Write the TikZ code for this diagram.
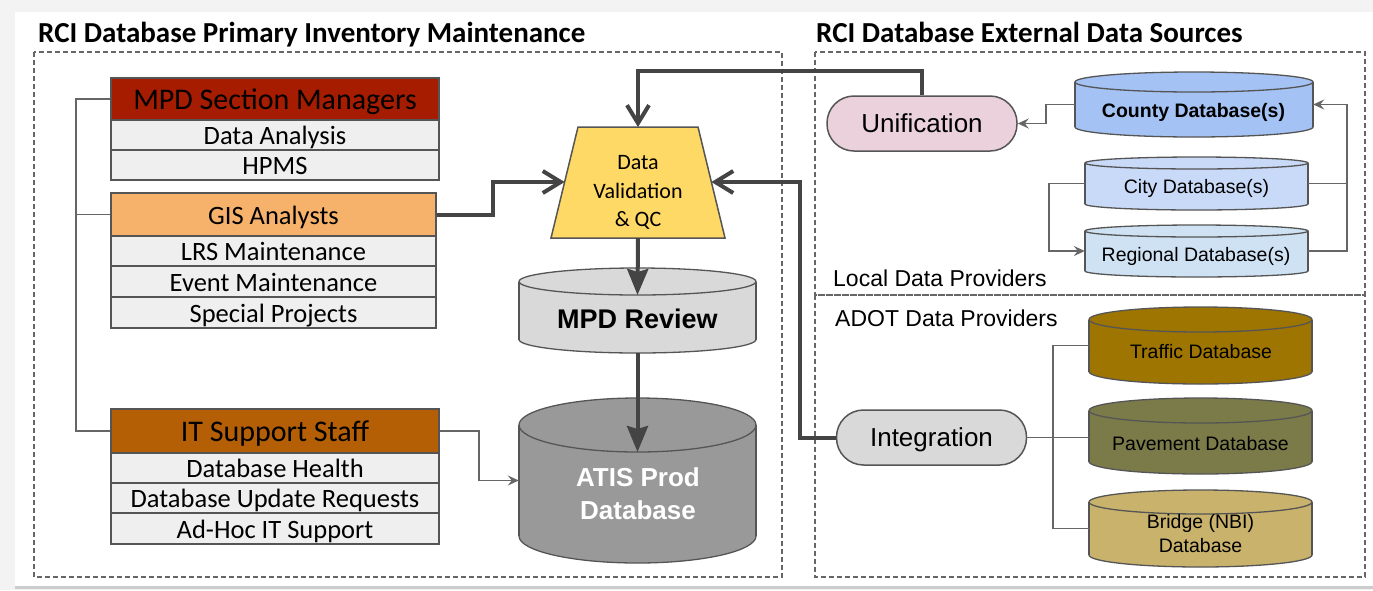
\documentclass[tikz,border=0pt]{standalone}
\usepackage{fontspec}
\newfontfamily\fcal{Carlito}
\newfontfamily\farial{Liberation Sans}
\usetikzlibrary{arrows.meta,calc}
\definecolor{mpdred}{HTML}{A61C00}
\definecolor{gisor}{HTML}{F6B26B}
\definecolor{itor}{HTML}{B45F06}
\definecolor{rowgray}{HTML}{EFEFEF}
\definecolor{dvqy}{HTML}{FFD966}
\definecolor{revg}{HTML}{D9D9D9}
\definecolor{atisg}{HTML}{999999}
\definecolor{unifp}{HTML}{EAD1DC}
\definecolor{integg}{HTML}{D9D9D9}
\definecolor{countyb}{HTML}{A4C2F4}
\definecolor{cityb}{HTML}{C9DAF8}
\definecolor{regb}{HTML}{CFE2F3}
\definecolor{trafc}{HTML}{9E7500}
\definecolor{pavec}{HTML}{7B7B4A}
\definecolor{bridc}{HTML}{C9B26B}
\definecolor{edge}{HTML}{555555}
\definecolor{thickc}{HTML}{444444}
\definecolor{thinc}{HTML}{666666}
\definecolor{bgc}{HTML}{F3F3F3}
\newcommand\dbcyl[7]{%
  \filldraw[fill=#7,draw=edge,line width=1.3pt] (#2,#4-#6) ellipse[x radius=#5pt,y radius=#6pt];
  \fill[#7] (#2-#5,#3+#6) rectangle (#2+#5,#4-#6);
  \draw[edge,line width=1.3pt] (#2-#5,#3+#6) -- (#2-#5,#4-#6) (#2+#5,#3+#6) -- (#2+#5,#4-#6);
  \filldraw[fill=#7,draw=edge,line width=1.3pt] (#2,#3+#6) ellipse[x radius=#5pt,y radius=#6pt];
  \node[minimum width=2*#5, minimum height=#4-#3, inner sep=0pt] (#1) at (#2,{(#3+#4)/2}) {};
  \coordinate (#1-front) at (#2,#3+2*#6);
}
\newcommand\bx[7]{\node[#6, minimum width={#4-#2}, minimum height={#5-#3}] (#1) at ({(#2+#4)/2},{(#3+#5)/2}) {#7};}
\begin{document}
\begin{tikzpicture}[x=1pt,y=-1pt,
  txt/.style={inner sep=0pt, text depth=0pt},
  headbox/.style={txt, text height=21.6pt, draw=edge, line width=1.5pt, font=\fcal\fontsize{30}{36}\selectfont},
  rowbox/.style={txt, text height=19.1pt, draw=edge, line width=1.5pt, fill=rowgray, font=\fcal\fontsize{26.5}{32}\selectfont},
  titletxt/.style={txt, text height=20.9pt, anchor=west, font=\fcal\bfseries\fontsize{29}{35}\selectfont},
  dashbox/.style={draw=thinc, line width=1.2pt, dash pattern=on 5pt off 3pt},
  pill/.style={txt, text height=18.7pt, draw=edge, line width=1.5pt, rounded corners=27pt, minimum width=190, minimum height=55, font=\farial\fontsize{26}{30}\selectfont},
  dbtxt/.style={txt, text height=14pt, font=\farial\fontsize{19.5}{24}\selectfont},
  labtxt/.style={txt, text height=16.6pt, anchor=west, font=\farial\fontsize{23}{27}\selectfont},
  thickline/.style={draw=thickc, line width=4pt},
  thinline/.style={draw=thinc, line width=1.8pt},
  barb/.tip={Straight Barb[length=18pt,width=22pt]},
  blk/.tip={Stealth[length=26pt,width=21pt,inset=3pt]},
  thintip/.tip={Stealth[length=11pt,width=10pt,inset=4pt]}
]
\useasboundingbox (0,0) rectangle (1373,590);
\fill[bgc] (0,0) rectangle (1373,590);
\fill[black!20] (15,12) rectangle (1373,589);
\fill[white] (15,12) rectangle (1373,586);
% dashed containers
\draw[dashbox] (34,52) rectangle (782,577);
\draw[dashbox] (815,52) rectangle (1365,295);
\draw[dashbox] (815,295) rectangle (1365,577);
% titles
\node[titletxt] (t1) at (38,32) {RCI Database Primary Inventory Maintenance};
\node[titletxt] (t2) at (816,32) {RCI Database External Data Sources};
% left staff boxes
\bx{mpdh}{111}{78}{439}{120}{headbox, fill=mpdred}{MPD Section Managers}
\bx{da}{111}{120}{439}{150}{rowbox}{Data Analysis}
\bx{hpms}{111}{150}{439}{180}{rowbox}{HPMS}
\bx{gish}{111}{193}{436}{236}{headbox, fill=gisor, text height=19.1pt, font=\fcal\fontsize{26.5}{32}\selectfont}{GIS Analysts}
\bx{lrs}{111}{236}{436}{266}{rowbox}{LRS Maintenance}
\bx{evm}{111}{266}{436}{297}{rowbox}{Event Maintenance}
\bx{spp}{111}{297}{436}{328}{rowbox}{Special Projects}
\bx{ith}{111}{409}{439}{453}{headbox, fill=itor}{IT Support Staff}
\bx{dbh}{111}{453}{439}{483}{rowbox}{Database Health}
\bx{dbu}{111}{483}{439}{513}{rowbox}{Database Update Requests}
\bx{ahs}{111}{513}{439}{544}{rowbox}{Ad-Hoc IT Support}
% validation trapezoid
\filldraw[fill=dvqy, draw=edge, line width=1.5pt] (578,127) -- (698,127) -- (725,238) -- (551,238) -- cycle;
\coordinate (dvq-t) at (638,127);
\coordinate (dvq-b) at (638,238);
\coordinate (dvq-l) at (564.6,182);
\coordinate (dvq-r) at (711.4,182);
\node[inner sep=0pt, align=center, font=\fcal\fontsize{22}{28.5}\selectfont] (dvq) at (638,192.5) {Data\\Validation\\\& QC};
% central cylinders
\dbcyl{review}{637.5}{268}{353}{118.5}{13.5}{revg}
\node[txt, text height=19.4pt, font=\farial\bfseries\fontsize{27}{32}\selectfont] (review-t) at (637.5,318.3) {MPD Review};
\dbcyl{atis}{637.5}{398}{563}{118.5}{27}{atisg}
\node[inner sep=0pt, align=center, text=white, font=\farial\bfseries\fontsize{26}{33}\selectfont] (atis-t) at (638,494) {ATIS Prod\\Database};
% right side
\node[pill, fill=unifp] (unif) at (922,123.5) {Unification};
\node[pill, fill=integg] (integ) at (931.5,437.5) {Integration};
\node[labtxt] (local) at (833,278) {Local Data Providers};
\node[labtxt] (adot) at (835,318.5) {ADOT Data Providers};
\dbcyl{county}{1194}{72}{137}{119}{10}{countyb}
\node[dbtxt, font=\farial\bfseries\fontsize{19.5}{24}\selectfont] (county-t) at (1193.5,110) {County Database(s)};
\dbcyl{city}{1196.5}{157}{210}{111.5}{6}{cityb}
\node[dbtxt] (city-t) at (1196.5,186.5) {City Database(s)};
\dbcyl{regional}{1196.5}{225}{277}{111.5}{6}{regb}
\node[dbtxt] (regional-t) at (1196,254) {Regional Database(s)};
\dbcyl{traffic}{1200.5}{307}{384}{111.5}{12.5}{trafc}
\node[dbtxt] (traffic-t) at (1201,351.5) {Traffic Database};
\dbcyl{pavement}{1200.5}{398}{474}{111.5}{12.5}{pavec}
\node[dbtxt] (pavement-t) at (1200.5,443.3) {Pavement Database};
\dbcyl{bridge}{1200.5}{490}{567}{111.5}{12}{bridc}
\node[inner sep=0pt, align=center, font=\farial\fontsize{19.5}{24}\selectfont] (bridge-t) at (1200.5,534) {Bridge (NBI)\\Database};
% left tree connector
\coordinate (treex) at (76,0);
\draw[thinline] (mpdh.west) -- (mpdh.west -| treex) -- (ith.west -| treex) -- (ith.west);
\draw[thinline] (gish.west) -- (gish.west -| treex);
% thick flows
\coordinate (gj) at (493,0);
\draw[thickline, -barb] (gish.east) -- (gish.east -| gj) |- (dvq-l);
\coordinate (uy) at (0,71);
\draw[thickline, -barb] (unif.north) -- (unif.north |- uy) -| (dvq-t);
\coordinate (ix) at (800,0);
\draw[thickline, -barb] (integ.west) -- (integ.west -| ix) |- (dvq-r);
\draw[thickline, -blk] (dvq-b) -- (review-front);
\draw[thickline, -blk] (review.south) -- (atis-front);
% thin flows
\coordinate (itj) at (479,0);
\draw[thinline, -thintip] (ith.east) -- (ith.east -| itj) |- (atis.west);
\coordinate (cj) at (1046,0);
\draw[thinline, -thintip] (county.west) -- (county.west -| cj) |- (unif.east);
\coordinate (rj) at (1347,0);
\draw[thinline, -thintip] (city.east) -- (city.east -| rj) |- (county.east);
\draw[thinline] (regional.east) -- (regional.east -| rj) -- (city.east -| rj);
\coordinate (lj) at (1049,0);
\draw[thinline, -thintip] (city.west) -- (city.west -| lj) |- (regional.west);
\coordinate (aj) at (1053,0);
\draw[thinline] (integ.east) -- (integ.east -| pavement.west);
\draw[thinline] (traffic.west) -- (traffic.west -| aj) -- (bridge.west -| aj) -- (bridge.west);
\end{tikzpicture}
\end{document}
